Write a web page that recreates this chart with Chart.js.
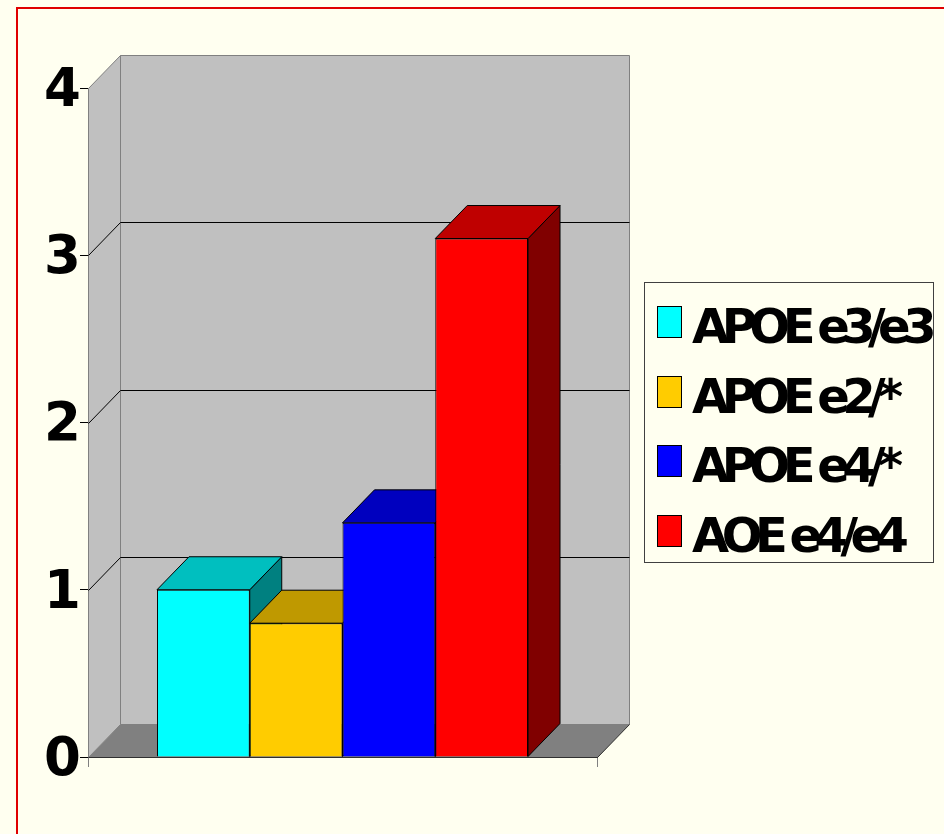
<!DOCTYPE html>
<html>
<head>
<meta charset="utf-8">
<script src="https://cdn.jsdelivr.net/npm/chart.js@4.4.1/dist/chart.umd.min.js"></script>
<style>
  html, body { margin: 0; padding: 0; background: #FFFFF0; }
  canvas { display: block; }
</style>
</head>
<body>
<canvas id="chart" width="944" height="834"></canvas>
<script>
// data
const categories = [''];
const seriesNames = ['APOE e3/e3', 'APOE e2/*', 'APOE e4/*', 'AOE e4/e4'];
const seriesValues = [1.0, 0.8, 1.4, 3.1];
const seriesColors = ['#00FFFF', '#FFCC00', '#0000FF', '#FF0000'];
const yTicks = [0, 1, 2, 3, 4];

// depth offset of the fake 3D box
const DX = 32, DY = 33;

function shade(hex, f) {
    const n = parseInt(hex.slice(1), 16);
    const r = Math.round(((n >> 16) & 255) * f);
    const g = Math.round(((n >> 8) & 255) * f);
    const b = Math.round((n & 255) * f);
    return `rgb(${r},${g},${b})`;
}

function poly(ctx, pts, fill, stroke) {
    ctx.beginPath();
    pts.forEach((p, i) => i ? ctx.lineTo(p[0], p[1]) : ctx.moveTo(p[0], p[1]));
    ctx.closePath();
    if (fill) { ctx.fillStyle = fill; ctx.fill(); }
    if (stroke) { ctx.strokeStyle = stroke; ctx.stroke(); }
}

const threeD = {
    id: 'threeD',
    beforeDraw(chart) {
        const ctx = chart.ctx;
        ctx.save();
        ctx.fillStyle = '#FFFFF0';
        ctx.fillRect(0, 0, chart.width, chart.height);
        ctx.strokeStyle = '#E00000';
        ctx.lineWidth = 2;
        ctx.beginPath();
        ctx.moveTo(17, chart.height);
        ctx.lineTo(17, 8);
        ctx.lineTo(chart.width, 8);
        ctx.stroke();
        ctx.restore();
    },
    beforeDatasetsDraw(chart) {
        const { ctx, chartArea: a, scales: { y } } = chart;
        const L = Math.round(a.left) + 0.5, R = Math.round(a.right) + 0.5;
        const T = Math.round(a.top) + 0.5, B = Math.round(a.bottom) + 0.5;
        ctx.save();
        ctx.lineWidth = 1;
        // side wall, back wall, floor
        poly(ctx, [[L, B], [L + DX, B - DY], [L + DX, T - DY], [L, T]], '#C0C0C0', '#808080');
        poly(ctx, [[L + DX, T - DY], [R + DX, T - DY], [R + DX, B - DY], [L + DX, B - DY]], '#C0C0C0', '#808080');
        poly(ctx, [[L, B], [R, B], [R + DX, B - DY], [L + DX, B - DY]], '#808080', null);
        ctx.strokeStyle = '#303030';
        ctx.beginPath();
        ctx.moveTo(L, B); ctx.lineTo(R, B); ctx.lineTo(R + DX, B - DY);
        ctx.stroke();
        // gridlines on the walls
        ctx.strokeStyle = '#000';
        yTicks.slice(1, -1).forEach(v => {
            const py = Math.round(y.getPixelForValue(v)) + 0.5;
            ctx.beginPath();
            ctx.moveTo(L, py);
            ctx.lineTo(L + DX, py - DY);
            ctx.lineTo(R + DX, py - DY);
            ctx.stroke();
        });
        // side and top faces of each bar
        chart.data.datasets.forEach((ds, i) => {
            const bar = chart.getDatasetMeta(i).data[0];
            const x0 = bar.x - bar.width / 2, x1 = bar.x + bar.width / 2;
            const top = bar.y, base = bar.base;
            const c = ds.backgroundColor;
            poly(ctx, [[x1, top], [x1 + DX, top - DY], [x1 + DX, base - DY], [x1, base]], shade(c, 0.5), '#000');
            poly(ctx, [[x0, top], [x1, top], [x1 + DX, top - DY], [x0 + DX, top - DY]], shade(c, 0.75), '#000');
        });
        ctx.restore();
    },
    afterDraw(chart) {
        const ctx = chart.ctx;
        ctx.save();
        // legend
        ctx.lineWidth = 1;
        ctx.strokeStyle = '#404040';
        ctx.strokeRect(644.5, 282.5, 289, 280);
        ctx.font = 'bold 48px "DejaVu Sans"';
        ctx.letterSpacing = '-7.5px';
        ctx.textBaseline = 'alphabetic';
        ctx.textAlign = 'left';
        chart.data.datasets.forEach((ds, i) => {
            const ry = 306 + i * 69.5;
            ctx.fillStyle = ds.backgroundColor;
            ctx.fillRect(657, Math.round(ry), 24, 31);
            ctx.strokeStyle = '#000';
            ctx.strokeRect(657.5, Math.round(ry) + 0.5, 24, 31);
            ctx.fillStyle = '#000';
            ctx.fillText(ds.label, 692, ry + 37);
        });
        ctx.restore();
    }
};

new Chart(document.getElementById('chart'), {
    type: 'bar',
    data: {
        labels: categories,
        datasets: seriesNames.map((name, i) => ({
            label: name,
            data: [seriesValues[i]],
            backgroundColor: seriesColors[i],
            borderColor: '#000',
            borderWidth: 1,
            categoryPercentage: 0.729,
            barPercentage: 1
        }))
    },
    options: {
        responsive: false,
        animation: false,
        devicePixelRatio: 1,
        layout: { padding: { left: 0, top: 88, right: 347, bottom: 0 } },
        plugins: { legend: { display: false }, tooltip: { enabled: false } },
        scales: {
            x: {
                ticks: { display: false },
                grid: { offset: true, drawOnChartArea: false, tickLength: 10, color: '#808080' },
                border: { color: '#000' },
                afterFit(scale) { scale.height = 77; }
            },
            y: {
                min: 0,
                max: 4,
                afterBuildTicks(scale) { scale.ticks = yTicks.map(v => ({ value: v })); },
                ticks: {
                    color: '#000',
                    padding: -1,
                    labelOffset: 4,
                    font: { family: '"DejaVu Sans"', size: 53, weight: 'bold' }
                },
                grid: { drawOnChartArea: false, tickLength: 8, color: '#000' },
                border: { color: '#808080' },
                afterFit(scale) { scale.width = 88; }
            }
        }
    },
    plugins: [threeD]
});
</script>
</body>
</html>
